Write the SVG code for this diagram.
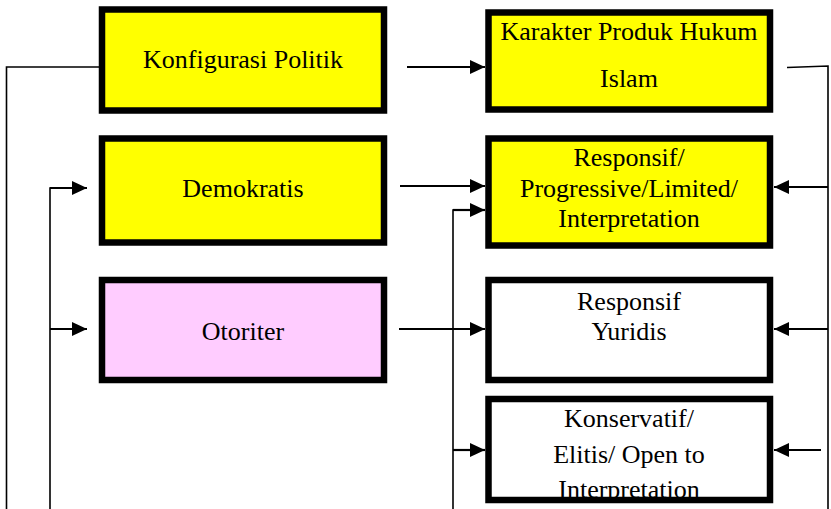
<svg xmlns="http://www.w3.org/2000/svg" width="831" height="509" viewBox="0 0 831 509">
<style>
.box{stroke:#000;stroke-width:6.5}
.yel{fill:#FFFF00}
.pink{fill:#FFCCFF}
.wht{fill:#FFFFFF}
.frame{fill:none;stroke:#000;stroke-width:6.5}
.t{font-family:"Liberation Serif","Times New Roman",serif;font-size:26px;fill:#000;text-anchor:middle}
.ln{fill:none;stroke:#000;stroke-width:1.6}
.ar{fill:none;stroke:#000;stroke-width:2.2;marker-end:url(#ah)}
</style>
<defs>
<marker id="ah" viewBox="0 0 15 14" refX="15" refY="7" markerWidth="15" markerHeight="14" orient="auto" markerUnits="userSpaceOnUse">
<path d="M0,0 L15,7 L0,14 z" fill="#000"/>
</marker>
</defs>
<g id="connectors">
<polyline class="ln" points="102,67 6.5,67 6.5,509"/>
<polyline class="ln" points="50,509 50,188 60,188"/>
<line class="ar" x1="50" y1="188" x2="87" y2="188"/>
<line class="ar" x1="50" y1="329" x2="87" y2="329"/>
<line class="ar" x1="407" y1="67" x2="485" y2="67"/>
<line class="ar" x1="400" y1="186" x2="485" y2="186"/>
<line class="ar" x1="399" y1="329" x2="485" y2="329"/>
<polyline class="ln" points="453,509 453,210 460,210"/>
<line class="ar" x1="453" y1="210" x2="485" y2="210"/>
<line class="ar" x1="453" y1="450" x2="485" y2="450"/>
<polyline class="ln" points="787,67.5 828,66 828,509"/>
<line class="ar" x1="828" y1="187" x2="774" y2="187"/>
<line class="ar" x1="828" y1="329" x2="774" y2="329"/>
<line class="ar" x1="821" y1="450" x2="774" y2="450"/>
</g>
<g id="konfigurasi">
<rect class="box yel" x="102" y="9.5" width="282" height="101"/>
<text class="t" x="243" y="68">Konfigurasi Politik</text>
</g>
<g id="demokratis">
<rect class="box yel" x="102" y="138.5" width="282" height="104"/>
<text class="t" x="243" y="197">Demokratis</text>
</g>
<g id="otoriter">
<rect class="box pink" x="102" y="280" width="282" height="100"/>
<text class="t" x="243" y="340">Otoriter</text>
</g>
<g id="karakter">
<rect class="box yel" x="488.5" y="12.5" width="281.5" height="97"/>
<text class="t" x="629" y="40">Karakter Produk Hukum</text>
<text class="t" x="629" y="87">Islam</text>
</g>
<g id="responsif-progressive">
<rect class="box yel" x="488.5" y="138.5" width="281.5" height="107"/>
<text class="t" x="629" y="166">Responsif/</text>
<text class="t" x="629" y="197">Progressive/Limited/</text>
<text class="t" x="629" y="227">Interpretation</text>
</g>
<g id="responsif-yuridis">
<rect class="box wht" x="488.5" y="280" width="281.5" height="100"/>
<text class="t" x="629" y="310">Responsif</text>
<text class="t" x="629" y="340">Yuridis</text>
</g>
<g id="konservatif">
<rect class="wht" x="488.5" y="399" width="281.5" height="101"/>
<text class="t" x="629" y="427">Konservatif/</text>
<text class="t" x="629" y="463">Elitis/ Open to</text>
<text class="t" x="629" y="498">Interpretation</text>
<rect class="frame" x="488.5" y="399" width="281.5" height="101"/>
</g>
</svg>
